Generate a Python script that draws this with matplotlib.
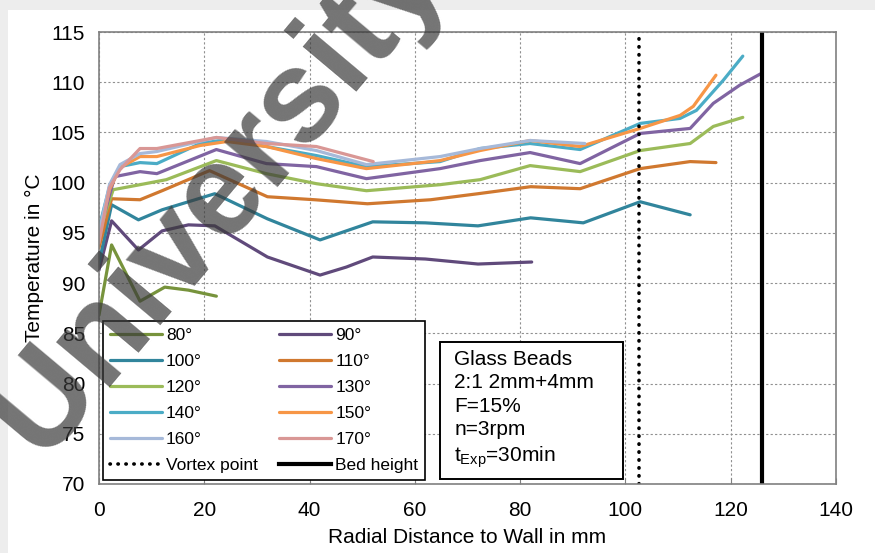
import matplotlib
matplotlib.use("Agg")
import matplotlib.pyplot as plt
from matplotlib.patches import Rectangle

plt.rcParams['font.family'] = ['Liberation Sans', 'DejaVu Sans']

# radial positions (mm) and temperatures (degC)
x80 = [0, 2.4, 7.8, 12.5, 17, 22.3]
t80 = [86.8, 93.8, 88.2, 89.6, 89.3, 88.7]

x90 = [0, 2.4, 7.5, 12, 17, 22, 32, 42, 47, 52, 62, 72, 82.2]
t90 = [91.3, 96.2, 93.3, 95.2, 95.8, 95.7, 92.6, 90.8, 91.6, 92.6, 92.4, 91.9, 92.1]

x100 = [0, 2.4, 7.5, 12, 22, 32, 42, 52, 62, 72, 82, 92, 102.8, 112.3]
t100 = [92.0, 97.8, 96.3, 97.3, 98.9, 96.4, 94.3, 96.1, 96.0, 95.7, 96.5, 96.0, 98.1, 96.8]

x110 = [0, 2.4, 7.8, 12, 21, 32, 41, 51, 63, 72, 82, 91.4, 102.8, 112.3, 117.2]
t110 = [93.5, 98.4, 98.3, 99.2, 101.2, 98.6, 98.3, 97.9, 98.3, 98.9, 99.6, 99.4, 101.4, 102.1, 102.0]

x120 = [0, 2.7, 7.8, 12.8, 22.3, 31.8, 41.3, 50.8, 64.8, 72.4, 81.9, 91.4, 102.8, 112.3, 116.7, 122.3]
t120 = [95.0, 99.3, 99.8, 100.3, 102.2, 100.9, 99.9, 99.2, 99.8, 100.3, 101.7, 101.1, 103.2, 103.9, 105.6, 106.5]

x130 = [0, 3, 7.8, 11, 22.3, 31.8, 41.3, 50.8, 64.8, 72.4, 81.9, 91.4, 102.8, 112.3, 116.7, 121.7, 125.9]
t130 = [95.0, 100.6, 101.1, 100.9, 103.3, 101.9, 101.6, 100.4, 101.4, 102.2, 103.0, 101.9, 104.9, 105.4, 107.9, 109.7, 110.9]

x140 = [0, 2, 4, 7.8, 11, 19.2, 24.3, 31.8, 41.3, 50.8, 64.8, 72.4, 81.9, 91.4, 102.8, 110.4, 113.5, 118.6, 122.3]
t140 = [95.5, 99.6, 101.6, 102.0, 101.9, 103.9, 104.3, 103.6, 102.7, 101.6, 102.1, 103.4, 103.9, 103.3, 105.9, 106.4, 107.2, 110.2, 112.6]

x150 = [0, 2, 4, 7.8, 11, 19.2, 24.3, 31.8, 41.3, 50.8, 64.8, 72.4, 81.9, 91.4, 102.8, 110.4, 112.9, 117.2]
t150 = [94.8, 99.3, 101.5, 102.6, 102.6, 103.7, 104.1, 103.6, 102.4, 101.4, 102.2, 103.2, 104.2, 103.6, 105.4, 106.7, 107.6, 110.7]

x160 = [0, 2, 4, 7.8, 11, 22.3, 31.8, 41.3, 50.8, 64.8, 72.4, 81.9, 92.3]
t160 = [95.0, 99.8, 101.8, 102.9, 103.1, 104.5, 104.1, 103.2, 101.8, 102.6, 103.4, 104.2, 103.9]

x170 = [0, 2, 4, 7.8, 11, 22.3, 31.8, 41.3, 52.1]
t170 = [94.0, 99.5, 101.3, 103.4, 103.4, 104.5, 103.9, 103.6, 102.1]

labels = ['80°', '90°', '100°', '110°', '120°', '130°', '140°', '150°', '160°', '170°']
colors = ['#77933C', '#604A7B', '#31859C', '#D0782F', '#9BBB59',
          '#8064A2', '#4BACC6', '#F79646', '#A6B9D9', '#D99795']
series_x = [x80, x90, x100, x110, x120, x130, x140, x150, x160, x170]
series_t = [t80, t90, t100, t110, t120, t130, t140, t150, t160, t170]

vortex_point = 102.6
bed_height = 126.0

info_text = 'Glass Beads\n2:1 2mm+4mm\nF=15%\nn=3rpm\n$\\mathregular{t_{Exp}}$=30min'

fig = plt.figure(figsize=(8.75, 5.53), dpi=100)
ax = fig.add_axes([0.1131, 0.1248, 0.8423, 0.8173])

handles = []
for xs, ts, lab, col in zip(series_x, series_t, labels, colors):
    h, = ax.plot(xs, ts, color=col, lw=2.3, label=lab, solid_capstyle='round',
                 solid_joinstyle='round')
    handles.append(h)

hv = ax.axvline(vortex_point, color='black', lw=2.6, linestyle=(0, (0.1, 2.1)),
                dash_capstyle='round', label='Vortex point')
hb = ax.axvline(bed_height, color='black', lw=3, label='Bed height')
handles += [hv, hb]

ax.set_xlim(0, 140)
ax.set_ylim(70, 115)
ax.set_xticks(range(0, 141, 20))
ax.set_yticks(range(70, 116, 5))
ax.tick_params(axis='x', direction='in', length=4, color='#808080', labelsize=15, pad=12)
ax.tick_params(axis='y', length=0, labelsize=15, pad=10)
ax.grid(True, color='#909090', linestyle=(0, (2, 2)), lw=0.8)
ax.set_axisbelow(True)
for s in ax.spines.values():
    s.set_color('#808080')
    s.set_linewidth(1.2)

ax.set_xlabel('Radial Distance to Wall in mm', fontsize=15, labelpad=6)
ax.set_ylabel('Temperature in °C', fontsize=15, labelpad=4)

# legend filled row by row like the original (two columns)
order = [0, 2, 4, 6, 8, 10, 1, 3, 5, 7, 9, 11]
leg = ax.legend(handles=[handles[i] for i in order], ncol=2, loc='lower left',
                bbox_to_anchor=(0.005, 0.009), fontsize=12.5, frameon=True,
                fancybox=False, edgecolor='black', framealpha=1,
                handlelength=3.0, handletextpad=0.25, labelspacing=0.62,
                columnspacing=1.2, borderaxespad=0, borderpad=0.4)
leg.get_frame().set_linewidth(1.2)

box = Rectangle((0.463, 0.011), 0.248, 0.303, transform=ax.transAxes,
                facecolor='white', edgecolor='black', lw=1.4, zorder=5)
ax.add_patch(box)
ax.text(0.482, 0.297, info_text, transform=ax.transAxes, fontsize=15,
        va='top', ha='left', zorder=6, linespacing=1.3)

# slide border
fig.patches.append(Rectangle((0, 0.982), 1, 0.018, transform=fig.transFigure,
                             facecolor='#EDEDED', edgecolor='none', zorder=-1))
fig.patches.append(Rectangle((0, 0), 0.009, 1, transform=fig.transFigure,
                             facecolor='#EDEDED', edgecolor='none', zorder=-1))

# watermark
fig.text(218 / 875, 1 - 196 / 553, 'University', fontsize=94, fontweight='bold',
         rotation=50, color='#3A3A3A', alpha=0.7, ha='center', va='center', zorder=20)

fig.savefig('out.png', dpi=100)
